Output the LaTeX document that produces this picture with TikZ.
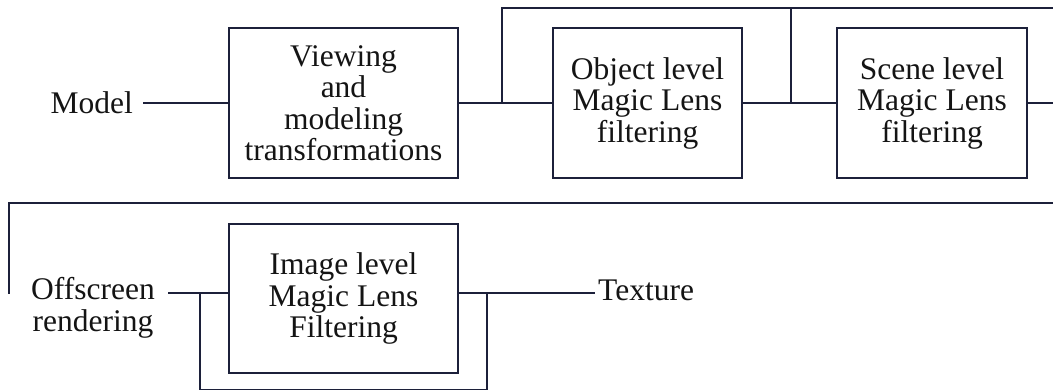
\documentclass[tikz,border=0pt]{standalone}
\usepackage{fontspec}
\setmainfont{Liberation Serif}
\definecolor{ln}{RGB}{28,32,58}
\definecolor{tx}{RGB}{20,20,20}
\begin{document}
\begin{tikzpicture}[x=1pt,y=-1pt,
  box/.style={draw=ln, line width=1.9pt, align=center, inner sep=0pt, text=tx},
  lbl/.style={align=center, inner sep=0pt, text=tx},
  wire/.style={draw=ln, line width=1.9pt},
  font=\fontsize{31.5}{31.5}\selectfont]
\useasboundingbox (0,0) rectangle (1053,390);
% row 1
\node[box, minimum width=229pt, minimum height=150pt] (view) at (343.5,103) {Viewing\\and\\modeling\\transformations};
\node[box, minimum width=189pt, minimum height=150pt] (obj) at (647.5,103) {Object level\\Magic Lens\\filtering};
\node[box, minimum width=190pt, minimum height=150pt] (scene) at (932,103) {Scene level\\Magic Lens\\filtering};
\node[lbl, inner xsep=10pt, anchor=east] (model) at (143,103) {Model};
\coordinate (j1) at (502,103);
\coordinate (t1) at (502,8);
\coordinate (j2) at (791,103);
\coordinate (t2) at (791,8);
\coordinate (tr) at (1053,8);
\coordinate (er) at (1053,103);
% row 2
\node[box, minimum width=229pt, minimum height=149pt] (img) at (343.5,298.5) {Image level\\Magic Lens\\Filtering};
\node[lbl, inner xsep=13pt] (off) at (93,308) {Offscreen\\rendering};
\node[lbl, inner xsep=3pt, anchor=west] (tex) at (595,290) {Texture};
\coordinate (rl) at (1053,203);
\coordinate (rt) at (9,203);
\coordinate (rb) at (9,294);
\coordinate (j3) at (200,293);
\coordinate (j4) at (487,293);
\coordinate (b3) at (200,390);
\coordinate (b4) at (487,390);
% wires
\draw[wire] (model.east |- view.west) -- (view.west);
\draw[wire] (view.east) -- (obj.west);
\draw[wire] (j1) -- (t1) -- (tr);
\draw[wire] (obj.east) -- (scene.west);
\draw[wire] (j2) -- (t2);
\draw[wire] (scene.east) -- (er);
\draw[wire] (rl) -- (rt) -- (rb);
\draw[wire] (off.east |- j3) -- (img.west |- j3);
\draw[wire] (img.east |- j4) -- (tex.west |- j4);
\draw[wire] (j3) -- (b3) -- (b4) -- (j4);
\end{tikzpicture}
\end{document}
